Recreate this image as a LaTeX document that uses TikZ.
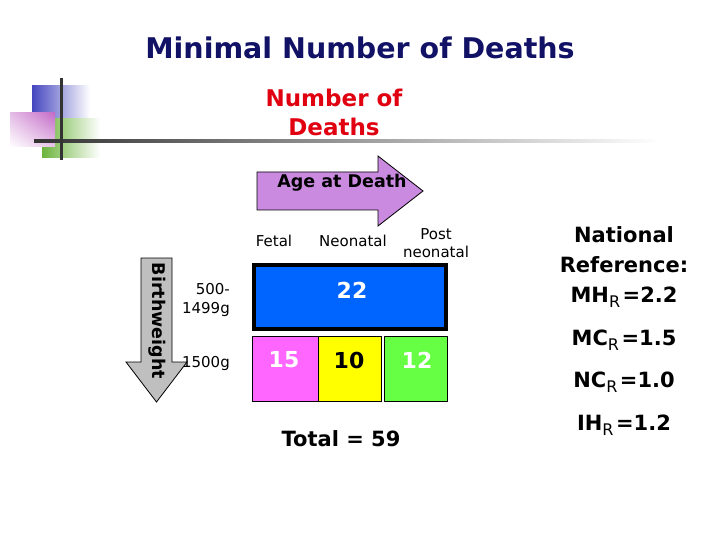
\documentclass[tikz,border=0pt]{standalone}
\usepackage{fontspec}
\setmainfont{DejaVu Sans}
\usetikzlibrary{positioning, shadings}

\definecolor{titlenavy}{HTML}{111166}
\definecolor{deathred}{HTML}{E00010}
\definecolor{agepurple}{HTML}{C98AE0}
\definecolor{cellblue}{HTML}{0064FF}
\definecolor{cellpink}{HTML}{FF66FF}
\definecolor{cellyellow}{HTML}{FFFF00}
\definecolor{cellgreen}{HTML}{66FF44}
\definecolor{logoblue}{HTML}{4646C0}
\definecolor{logopink}{HTML}{C46CC8}
\definecolor{logogreen}{HTML}{6CB43C}

\newcommand{\rsub}[1]{\raisebox{-5pt}{\mdseries\fontsize{16}{18}\selectfont #1}\kern2.5pt}

\begin{document}
\begin{tikzpicture}[
  x=1pt, y=-1pt,
  heading/.style={font=\fontsize{28.5}{34}\selectfont\bfseries, text=titlenavy, anchor=base},
  subhead/.style={font=\fontsize{23}{28}\selectfont\bfseries, text=deathred, anchor=base},
  axislabel/.style={font=\fontsize{17.5}{21}\selectfont\bfseries, inner sep=0pt},
  colhead/.style={font=\fontsize{15}{18}\selectfont, anchor=base},
  rowhead/.style={font=\fontsize{15}{18}\selectfont, anchor=base east, inner sep=0pt},
  cell/.style={draw=black, line width=1pt, inner sep=0pt},
  cellnum/.style={font=\fontsize{22}{26}\selectfont\bfseries},
  refline/.style={font=\fontsize{21}{26}\selectfont\bfseries, anchor=base}
]
\useasboundingbox (0,0) rectangle (720,540);
\fill[white] (0,0) rectangle (720,540);

% -------------------------
% Logo and rule
% -------------------------
\shade[left color=logoblue, middle color=logoblue!85, right color=white] (32,86) rectangle (90,119);
\shade[left color=logogreen, middle color=logogreen!85, right color=white] (42,119) rectangle (100,158);
\shade[upper right=logopink, upper left=logopink!45, lower right=logopink!40, lower left=white] (10,113) rectangle (55,147);
\shade[left color=black!80, right color=white] (34,139.5) rectangle (660,142.5);
\fill[black!80] (59.5,78) rectangle (62.5,160);

% -------------------------
% Titles
% -------------------------
\node[heading] (title) at (360,59) {Minimal Number of Deaths};
\node[subhead] (deaths1) at (334,107) {Number of};
\node[subhead] (deaths2) at (334,136) {Deaths};

% -------------------------
% Axis arrows
% -------------------------
\filldraw[fill=agepurple, draw=black, line width=0.8pt]
  (257,172) -- (378,172) -- (378,156) -- (423,191) -- (378,226) -- (378,210) -- (257,210) -- cycle;
\node[axislabel] (age) at (342,183) {Age at Death};

\filldraw[fill=black!25, draw=black, line width=0.8pt]
  (141,258) -- (172,258) -- (172,362) -- (187,362) -- (156.5,402) -- (126,362) -- (141,362) -- cycle;
\node[axislabel, rotate=-90] (bw) at (157,321) {Birthweight};

% -------------------------
% Column and row headings
% -------------------------
\node[colhead] (fetal) at (274,247) {Fetal};
\node[colhead] (neo) at (353,247) {Neonatal};
\node[colhead] (post1) at (436,240) {Post};
\node[colhead] (post2) at (436,257) {neonatal};

\node[rowhead] (low1) at (230,294) {500-};
\node[rowhead] (low2) at (230,313) {1499g};
\node[rowhead] (high) at (230,367) {1500g};

% -------------------------
% Cells
% -------------------------
\node[cell, line width=4pt, fill=cellblue, minimum width=192.6pt, minimum height=63.4pt] (vlbw) at (350,297) {};
\node[cell, fill=cellpink, minimum width=65.5pt, minimum height=64.7pt] (fetalc) at (285.5,369) {};
\node[cell, fill=cellyellow, minimum width=63pt, minimum height=64.7pt] (neoc) at (349.8,369) {};
\node[cell, fill=cellgreen, minimum width=62.4pt, minimum height=64.7pt] (postc) at (416,369) {};

\node[cellnum, text=white] (n22) at (352,290) {22};
\node[cellnum, text=white] (n15) at (284,360) {15};
\node[cellnum] (n10) at (349,360) {10};
\node[cellnum, text=white] (n12) at (417,360) {12};

\node[font=\fontsize{21}{25}\selectfont\bfseries, anchor=base] (total) at (341,446) {Total = 59};

% -------------------------
% National reference values
% -------------------------
\node[refline] (nat1) at (624,243) {National};
\node[refline] (nat2) at (624,272) {Reference:};
\node[refline] (mh) at (624,302) {MH\rsub{R}=2.2};
\node[refline] (mc) at (624,345) {MC\rsub{R}=1.5};
\node[refline] (nc) at (624,387) {NC\rsub{R}=1.0};
\node[refline] (ih) at (624,430) {IH\rsub{R}=1.2};

\end{tikzpicture}
\end{document}
